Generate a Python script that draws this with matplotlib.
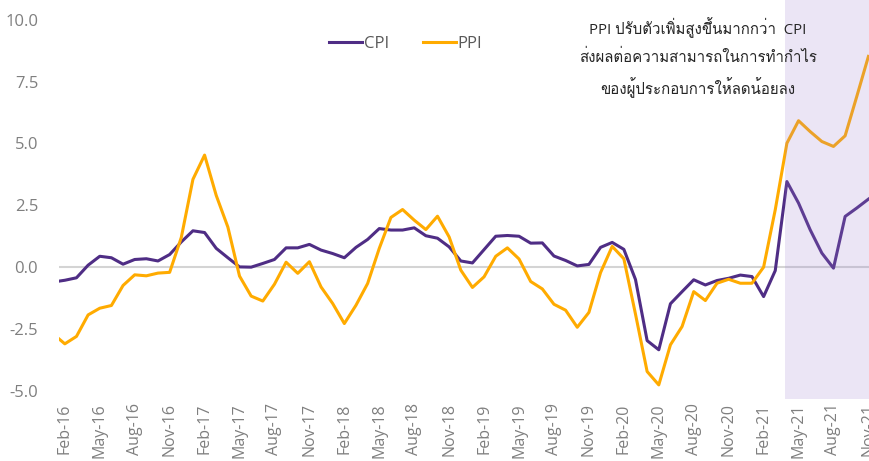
import matplotlib
matplotlib.use("Agg")
import matplotlib.pyplot as plt
import numpy as np
import pandas as pd
from matplotlib import font_manager, ft2font

# monthly % change (YoY), Jan-16 .. Nov-21
months = pd.date_range("2016-01-01", "2021-11-01", freq="MS")
cpi = [-0.60, -0.53, -0.43, 0.08, 0.44, 0.38, 0.12, 0.31, 0.34, 0.25, 0.51, 1.02,
       1.47, 1.40, 0.76, 0.38, 0.01, 0.00, 0.15, 0.31, 0.78, 0.78, 0.92, 0.69,
       0.55, 0.38, 0.80, 1.12, 1.56, 1.50, 1.50, 1.59, 1.27, 1.17, 0.82, 0.25,
       0.17, 0.71, 1.25, 1.28, 1.25, 0.97, 0.98, 0.45, 0.27, 0.05, 0.11, 0.80,
       1.00, 0.72, -0.50, -2.97, -3.34, -1.48, -0.99, -0.51, -0.72, -0.54, -0.45, -0.32,
       -0.38, -1.19, -0.14, 3.46, 2.59, 1.51, 0.57, -0.04, 2.05, 2.39, 2.75]
ppi = [-2.70, -3.10, -2.80, -1.93, -1.66, -1.55, -0.74, -0.31, -0.35, -0.24, -0.21, 1.20,
       3.55, 4.53, 2.90, 1.62, -0.36, -1.17, -1.37, -0.69, 0.20, -0.25, 0.22, -0.80,
       -1.47, -2.28, -1.54, -0.66, 0.76, 2.01, 2.33, 1.90, 1.52, 2.06, 1.22, -0.12,
       -0.82, -0.39, 0.44, 0.78, 0.33, -0.58, -0.88, -1.50, -1.74, -2.43, -1.83, -0.22,
       0.84, 0.34, -1.90, -4.22, -4.76, -3.14, -2.40, -0.99, -1.35, -0.65, -0.49, -0.65,
       -0.65, 0.00, 2.32, 5.01, 5.92, 5.48, 5.08, 4.88, 5.31, 6.90, 8.52]
y_ticks = [-5.0, -2.5, 0.0, 2.5, 5.0, 7.5, 10.0]
note = ["PPI ปรับตัวเพิ่มสูงขึ้นมากกว่า  CPI",
        "ส่งผลต่อความสามารถในการทำกำไร",
        "ของผู้ประกอบการให้ลดน้อยลง"]
highlight_from = pd.Timestamp("2021-04-01")


def find_thai_font():
    # pick any installed font that has Thai glyphs
    for f in font_manager.fontManager.ttflist:
        try:
            if 0x0E1B in ft2font.FT2Font(f.fname).get_charmap():
                return f.name
        except Exception:
            pass
    return None


thai_font = find_thai_font()
families = ["Open Sans", "DejaVu Sans"]
if thai_font:
    families = ["Open Sans", thai_font, "DejaVu Sans"]
plt.rcParams["font.family"] = families

# x positions as month index, 0 = Feb-16
x = np.arange(len(months)) - 1

fig = plt.figure(figsize=(8.69, 4.61), dpi=100)
ax = fig.add_axes([59 / 869, 62 / 461, 810 / 869, 399 / 461])

ax.axhline(0, color="#d4d4d4", lw=1.5, zorder=1)
ax.plot(x, cpi, color="#4f2d85", lw=2.2, label="CPI", zorder=3)
ax.plot(x, ppi, color="#ffab00", lw=2.2, label="PPI", zorder=3)

# shaded period drawn over the lines (lines look washed out inside it)
hx = (highlight_from.year - 2016) * 12 + highlight_from.month - 2 - 0.2
ax.axvspan(hx, 75, color="#9b7fcf", alpha=0.2, lw=0, zorder=4)

ax.set_xlim(-0.5, 69.05)
ax.set_ylim(-5.33, 10.8)

tick_pos = np.arange(0, 70, 3)
tick_lab = [months[i + 1].strftime("%b-%y") for i in tick_pos]
ax.set_xticks(tick_pos)
ax.set_xticklabels(tick_lab, rotation=90, fontsize=11.5, color="#7f7f7f")
ax.set_yticks(y_ticks)
ax.set_yticklabels([f"{v:.1f}" for v in y_ticks], fontsize=12, color="#7f7f7f")
ax.tick_params(axis="both", length=0)
ax.tick_params(axis="y", pad=15)
ax.tick_params(axis="x", pad=3)
for s in ax.spines.values():
    s.set_visible(False)

leg = ax.legend(loc="center", bbox_to_anchor=(0.428, 0.89), ncol=2, frameon=False,
                fontsize=12, handlelength=2.0, handletextpad=0.1, columnspacing=2.0)
for t in leg.get_texts():
    t.set_color("#595959")

# note lines, one text each so the spacing stays even
for i, line in enumerate(note):
    fig.text(698 / 869, 1 - (28 + 30 * i) / 461, line, ha="center", va="center",
             fontsize=10.8, color="#262626")

plt.savefig("out.png", dpi=100)
